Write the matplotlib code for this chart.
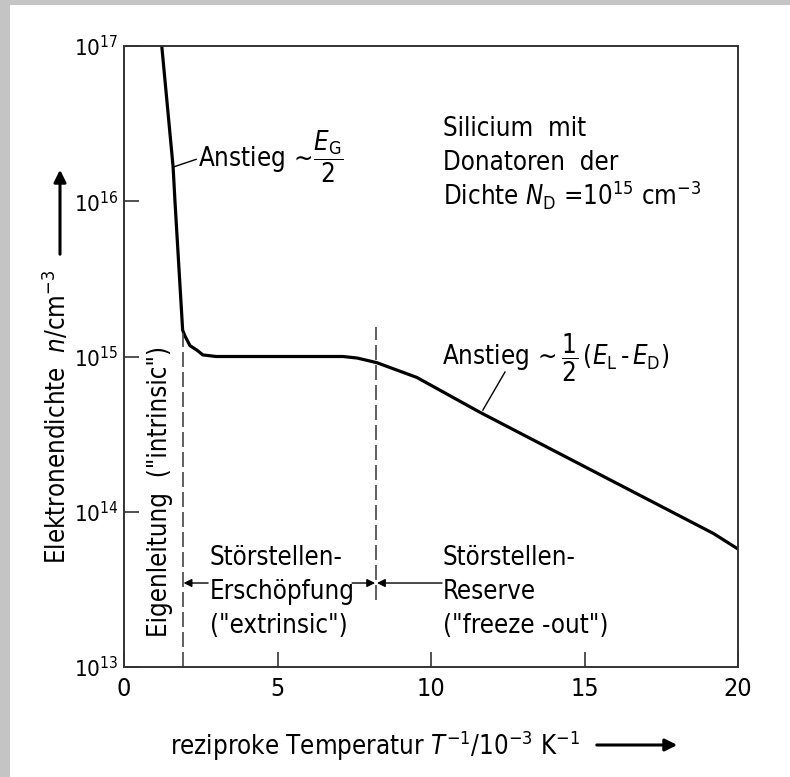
import numpy as np
import matplotlib
matplotlib.use('Agg')
import matplotlib.pyplot as plt
from matplotlib.patches import Rectangle, FancyArrowPatch
from matplotlib.ticker import FixedLocator, FuncFormatter, NullLocator

# Fuente estrecha (DejaVu condensada), tambien para las formulas
plt.rcParams['font.family'] = ['DejaVu Sans']
plt.rcParams['font.stretch'] = 'condensed'
plt.rcParams['mathtext.fontset'] = 'custom'
plt.rcParams['mathtext.rm'] = 'DejaVu Sans:stretch=condensed'
plt.rcParams['mathtext.it'] = 'DejaVu Sans:italic:stretch=condensed'
plt.rcParams['mathtext.bf'] = 'DejaVu Sans:bold:stretch=condensed'
plt.rcParams['mathtext.sf'] = 'DejaVu Sans:stretch=condensed'

# Datos: 1/T en 10^-3 K^-1, log10(n / cm^-3)
inv_T = [1.23, 1.60, 1.66, 1.91, 1.99, 2.15, 2.38, 2.57, 3.0, 5.0, 7.13, 7.6, 8.24, 9.54, 11.6, 19.2, 20.0]
log_n = [17.0, 16.22, 16.0, 15.17, 15.13, 15.07, 15.04, 15.01, 15.0, 15.0, 15.0, 14.99, 14.96, 14.865, 14.64, 13.86, 13.76]

x_ticks = [0, 5, 10, 15, 20]
y_ticks = [1e13, 1e14, 1e15, 1e16, 1e17]

# Limites de los regimenes
x_intrinsic = 1.91
x_freeze = 8.21

fs = 18.5
color_eje = '#333333'

fig = plt.figure(figsize=(7.9, 7.77), dpi=100)
ax = fig.add_axes([124/790, 1 - 667/777, (738 - 124)/790, (667 - 46)/777])

ax.plot(inv_T, [10**v for v in log_n], color='black', linewidth=2.3, solid_capstyle='butt')

ax.set_yscale('log')
ax.set_xlim(0, 20)
ax.set_ylim(1e13, 1e17)

ax.xaxis.set_major_locator(FixedLocator(x_ticks))
ax.yaxis.set_major_locator(FixedLocator(y_ticks))
ax.yaxis.set_minor_locator(NullLocator())
ax.xaxis.set_minor_locator(NullLocator())
ax.yaxis.set_major_formatter(FuncFormatter(lambda v, p: r'$\mathdefault{10^{%d}}$' % round(np.log10(v))))
ax.xaxis.set_major_formatter(FuncFormatter(lambda v, p: '%d' % v))

ax.tick_params(direction='in', length=11, width=1.2, color=color_eje)
ax.tick_params(axis='x', labelsize=18, pad=7)
ax.tick_params(axis='y', labelsize=16, pad=4)
for s in ax.spines.values():
    s.set_color(color_eje)
    s.set_linewidth(1.4)

# Lineas discontinuas de los regimenes
ax.plot([x_intrinsic, x_intrinsic], [10**13, 10**15.15], color='#444444', lw=1.2, dashes=(9, 3))
ax.plot([x_freeze, x_freeze], [10**13.43, 10**15.19], color='#444444', lw=1.2, dashes=(9, 3))

# Textos de pendiente
ax.text(2.41, 10**16.285, r'Anstieg$\,\sim\!\dfrac{E_\mathrm{G}}{2}$', fontsize=fs, ha='left', va='center')
ax.plot([1.60, 2.35], [10**16.22, 10**16.27], color='black', lw=1.0)

ax.text(10.36, 10**14.99, r'Anstieg$\,\sim\dfrac{1}{2}\,(E_\mathrm{L}\,\text{-}\,E_\mathrm{D})$',
        fontsize=fs, ha='left', va='center')
ax.plot([11.69, 12.41], [10**14.655, 10**14.90], color='black', lw=1.0)

# Bloque de texto arriba a la derecha
ax.text(10.39, 10**16.42, 'Silicium  mit', fontsize=fs, ha='left', va='baseline')
ax.text(10.39, 10**16.20, 'Donatoren  der', fontsize=fs, ha='left', va='baseline')
ax.text(10.39, 10**15.976, r'Dichte $N_\mathrm{D}$ =10$^{15}$ cm$^{-3}$', fontsize=fs, ha='left', va='baseline')

# Regimenes
ax.text(1.17, 10**13.193, 'Eigenleitung  ("intrinsic")', fontsize=fs, rotation=90, ha='center', va='bottom')

ax.text(2.80, 10**13.657, 'Störstellen-', fontsize=fs, ha='left', va='baseline')
ax.text(2.80, 10**13.438, 'Erschöpfung', fontsize=fs, ha='left', va='baseline')
ax.text(2.80, 10**13.219, '("extrinsic")', fontsize=fs, ha='left', va='baseline')

ax.text(10.39, 10**13.657, 'Störstellen-', fontsize=fs, ha='left', va='baseline')
ax.text(10.39, 10**13.438, 'Reserve', fontsize=fs, ha='left', va='baseline')
ax.text(10.39, 10**13.219, '("freeze -out")', fontsize=fs, ha='left', va='baseline')

y_flecha = 10**13.541
props = dict(arrowstyle='-|>', color='black', lw=1.0, mutation_scale=12, shrinkA=0, shrinkB=0)
ax.annotate('', xy=(x_intrinsic + 0.03, y_flecha), xytext=(2.74, y_flecha), arrowprops=props)
ax.annotate('', xy=(x_freeze - 0.03, y_flecha), xytext=(7.43, y_flecha), arrowprops=props)
ax.annotate('', xy=(x_freeze + 0.03, y_flecha), xytext=(10.36, y_flecha), arrowprops=props)

# Etiquetas de los ejes con flechas
fig.text(57/790, 1 - 417/777, r'Elektronendichte  $n$/cm$^{-3}$', fontsize=fs, rotation=90, ha='center', va='center')
fig.add_artist(FancyArrowPatch((60/790, 1 - 257/777), (60/790, 1 - 167/777),
               transform=fig.transFigure, arrowstyle='-|>', mutation_scale=18, lw=2.2, color='black'))

fig.text(170/790, 1 - 746/777, r'reziproke Temperatur $T^{-1}$/10$^{-3}$ K$^{-1}$', fontsize=fs, ha='left', va='center')
fig.add_artist(FancyArrowPatch((594/790, 1 - 745/777), (680/790, 1 - 745/777),
               transform=fig.transFigure, arrowstyle='-|>', mutation_scale=18, lw=2.2, color='black'))

# Borde gris del escaneo
fig.add_artist(Rectangle((0, 0), 10/790, 1, transform=fig.transFigure, facecolor='#c4c4c4', edgecolor='none'))
fig.add_artist(Rectangle((0, 1 - 5/777), 1, 5/777, transform=fig.transFigure, facecolor='#c4c4c4', edgecolor='none'))

fig.savefig('out.png', dpi=100)
